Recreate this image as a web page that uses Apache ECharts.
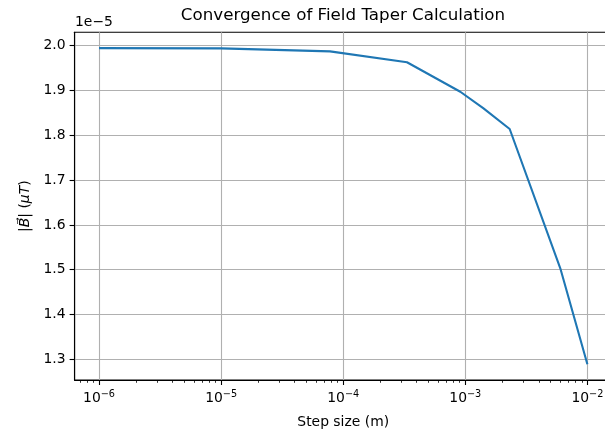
<!DOCTYPE html>
<html>
<head>
<meta charset="utf-8">
<script src="https://cdn.jsdelivr.net/npm/echarts@6/dist/echarts.min.js"></script>
<style>
  html, body { margin: 0; padding: 0; background: #fff; }
  #chart { width: 605px; height: 431px; }
</style>
</head>
<body>
<div id="chart"></div>
<script>
// Step sizes (m) used in the taper integration
const stepSizes = [1e-6, 1e-5, 7.8e-5, 3.33e-4, 9.1e-4, 1.41e-3, 2.31e-3, 6.0e-3, 1e-2];
// |B| in units of 1e-5 μT
const fieldMag = [1.9947, 1.9942, 1.9875, 1.9632, 1.8973, 1.8603, 1.8141, 1.5031, 1.2891];
const magExponent = -5;

// Axis ticks
const xMajorTicks = [1e-6, 1e-5, 1e-4, 1e-3, 1e-2];
const xMinorMultipliers = [2, 3, 4, 5, 6, 7, 8, 9];
const yTicks = [1.3, 1.4, 1.5, 1.6, 1.7, 1.8, 1.9, 2.0];

const FONT = 'DejaVu Sans';
const TICK_FS = 13.9;

const xMinor = [];
for (let k = -7; k <= -2; k++) {
  xMinorMultipliers.forEach(m => xMinor.push(m * Math.pow(10, k)));
}

const xMin = Math.pow(10, -6.2), xMax = Math.pow(10, -1.8);

const chart = echarts.init(document.getElementById('chart'), null, { renderer: 'canvas' });

const supFmt = v => {
  const e = Math.round(Math.log10(v));
  return '{b|10}{s|' + (e < 0 ? '\u2212' + (-e) : e) + '}';
};

const option = {
  animation: false,
  backgroundColor: '#ffffff',
  grid: {
    left: 74.6, top: 32.3, right: -6.8, bottom: 51,
    containLabel: false, outerBoundsMode: 'none',
    show: true, borderColor: '#000', borderWidth: 1.1, backgroundColor: 'transparent'
  },
  xAxis: [{
    type: 'log', logBase: 10, min: xMin, max: xMax, position: 'bottom',
    name: 'Step size (m)', nameLocation: 'middle', nameGap: 35,
    nameTextStyle: { fontFamily: FONT, fontSize: TICK_FS, color: '#000' },
    axisLine: { show: true, lineStyle: { color: '#000', width: 1.1 } },
    axisTick: { show: true, inside: false, length: 5, customValues: xMajorTicks,
                lineStyle: { color: '#000', width: 1.1 } },
    minorTick: { show: false },
    axisLabel: {
      show: true, margin: 9, customValues: xMajorTicks, formatter: supFmt,
      rich: {
        b: { fontFamily: FONT, fontSize: TICK_FS, color: '#000', verticalAlign: 'bottom' },
        s: { fontFamily: FONT, fontSize: 9.7, color: '#000', verticalAlign: 'bottom', padding: [0, 0, 6, 0] }
      }
    },
    splitLine: { show: true, customValues: xMajorTicks, lineStyle: { color: '#b0b0b0', width: 1.1 } }
  }, {
    type: 'log', logBase: 10, min: xMin, max: xMax, position: 'bottom',
    axisLine: { show: false },
    axisTick: { show: true, inside: false, length: 2.8, customValues: xMinor,
                lineStyle: { color: '#000', width: 0.8 } },
    axisLabel: { show: false },
    splitLine: { show: false }
  }],
  yAxis: {
    type: 'value', min: 1.2538, max: 2.030,
    name: '|{it|B\u20D7}| ({it|\u03BCT})', nameLocation: 'middle', nameGap: 40,
    nameTextStyle: { fontFamily: FONT, fontSize: TICK_FS, color: '#000',
      rich: { it: { fontFamily: FONT, fontSize: TICK_FS, fontStyle: 'italic', color: '#000' } } },
    axisLine: { show: true, lineStyle: { color: '#000', width: 1.1 } },
    axisTick: { show: true, inside: false, length: 5, customValues: yTicks,
                lineStyle: { color: '#000', width: 1.1 } },
    axisLabel: { show: true, margin: 9, customValues: yTicks,
                 fontFamily: FONT, fontSize: TICK_FS, color: '#000',
                 formatter: v => v.toFixed(1) },
    splitLine: { show: true, customValues: yTicks, lineStyle: { color: '#b0b0b0', width: 1.1 } }
  },
  graphic: [{
    type: 'text', x: 343, y: 16, z: 10,
    style: { text: 'Convergence of Field Taper Calculation', fontFamily: FONT, fontSize: 16.7,
             fill: '#000', textAlign: 'center', textVerticalAlign: 'middle' }
  }, {
    type: 'text', x: 75, y: 22, z: 10,
    style: { text: '1e\u2212' + (-magExponent), fontFamily: FONT, fontSize: TICK_FS,
             fill: '#000', textAlign: 'left', textVerticalAlign: 'middle' }
  }],
  series: [{
    type: 'line', xAxisIndex: 0,
    data: stepSizes.map((s, i) => [s, fieldMag[i]]),
    showSymbol: false, symbol: 'none',
    lineStyle: { color: '#1f77b4', width: 2.1 },
    itemStyle: { color: '#1f77b4' }
  }]
};
chart.setOption(option);
</script>
</body>
</html>
